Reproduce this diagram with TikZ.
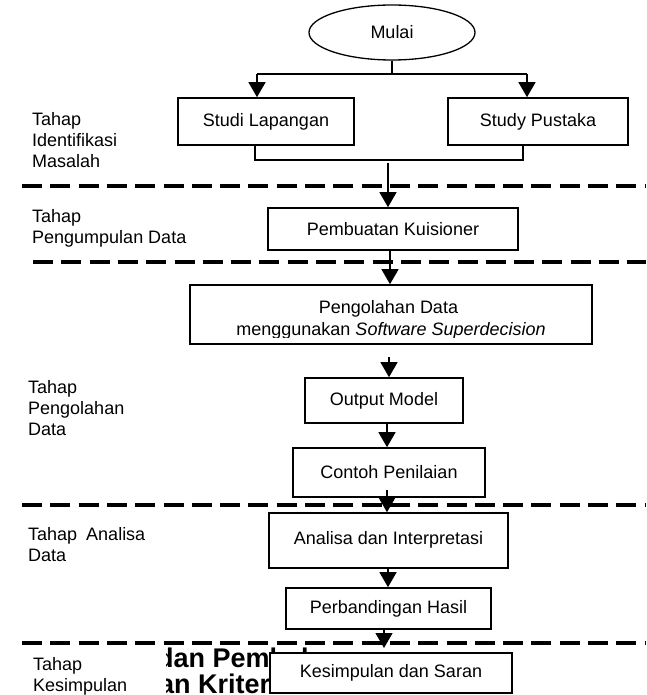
\documentclass[tikz,border=0pt]{standalone}
\usepackage{fontspec}
\setmainfont{Liberation Sans}
\usetikzlibrary{arrows.meta,shapes.geometric}
\begin{document}
\begin{tikzpicture}[x=1pt,y=-1pt,
  box/.style={draw,line width=1.6pt,fill=white,inner sep=0pt,font=\fontsize{18}{21}\selectfont,align=center},
  lbl/.style={anchor=north west,inner sep=0pt,align=left,font=\fontsize{18}{21}\selectfont},
  txt/.style={anchor=base,inner sep=0pt,font=\fontsize{18}{21}\selectfont},
  conn/.style={line width=1.3pt},
  arr/.style={line width=1.3pt,-{Triangle[length=15pt,width=17pt]}},
  sep/.style={line width=4pt,dash pattern=on 20pt off 8.3pt},
  head/.style={anchor=base west,inner sep=0pt,font=\fontsize{27}{30}\selectfont\bfseries}]
\useasboundingbox (0,0) rectangle (646,695);

% background heading fragments
\node[head] (h1) at (157,667) {dan Pembahasan};
\node[head] (h2) at (159,693) {an Kriteria};
\fill[white] (12,650) rectangle (166,700);

% stage labels
\node[lbl] (l1) at (32,112) {Tahap\\Identifikasi\\Masalah};
\node[lbl] (l2) at (32,209) {Tahap\\Pengumpulan Data};
\node[lbl] (l3) at (28,380) {Tahap\\Pengolahan\\Data};
\node[lbl] (l4) at (28,527) {Tahap\hspace{4pt} Analisa\\Data};
\node[lbl] (l5) at (33,657) {Tahap\\Kesimpulan};

% dashed separators
\coordinate (d1a) at (22,186);  \coordinate (d1b) at (646,186);
\coordinate (d2a) at (33,262);  \coordinate (d2b) at (646,262);
\coordinate (d3a) at (22,505);  \coordinate (d3b) at (646,505);
\coordinate (d4a) at (22,643);  \coordinate (d4b) at (646,643);
\draw[sep] (d1a) -- (d1b);
\draw[sep] (d2a) -- (d2b);
\draw[sep] (d3a) -- (d3b);
\draw[sep] (d4a) -- (d4b);

% nodes
\node[draw,ellipse,line width=1.3pt,minimum width=166pt,minimum height=55pt,inner sep=0pt,font=\fontsize{18}{21}\selectfont] (mulai) at (392,32.5) {Mulai};
\node[box,minimum width=176pt,minimum height=47pt] (studi) at (266,121.5) {Studi Lapangan};
\node[box,minimum width=180pt,minimum height=47pt] (pustaka) at (538,121.5) {Study Pustaka};
\node[box,minimum width=250pt,minimum height=42pt] (kuis) at (393,229) {Pembuatan Kuisioner};
\node[box,minimum width=402pt,minimum height=59pt] (olah) at (391,314.5) {};
\begin{scope}
  \clip (190,285) rectangle (592,337.5);
  \node[txt] (olah1) at (388.5,313) {Pengolahan Data};
  \node[txt] (olah2) at (391,335) {menggunakan \textit{Software Superdecision}};
\end{scope}
\node[box,minimum width=158pt,minimum height=45pt] (output) at (384,400.5) {Output Model};
\node[box,minimum width=192pt,minimum height=49pt] (contoh) at (389,472.5) {Contoh Penilaian};
\node[box,minimum width=239pt,minimum height=55pt] (analisa) at (388.5,540.5) {\raisebox{5pt}{Analisa dan Interpretasi}};
\node[box,minimum width=205pt,minimum height=41pt] (banding) at (388.5,608.5) {Perbandingan Hasil};
\node[box,minimum width=242pt,minimum height=40pt] (simpul) at (391,673) {Kesimpulan dan Saran};

% connectors
\coordinate (split) at (392,74);
\coordinate (sl) at (257,74);
\coordinate (sr) at (527,74);
\draw[conn] (mulai.south) -- (split);
\draw[conn] (sl) -- (sr);
\draw[arr] (sl) -- (sl |- studi.north);
\draw[arr] (sr) -- (sr |- pustaka.north);

\coordinate (ml) at (255,160);
\coordinate (mr) at (523,160);
\draw[conn] (ml |- studi.south) -- (ml) -- (mr) -- (mr |- pustaka.south);

\coordinate (m0) at (388,163);
\draw[arr] (m0) -- (m0 |- kuis.north);

\coordinate (c2) at (390,0);
\draw[arr] (kuis.south -| c2) -- (c2 |- olah.north);

\coordinate (a3) at (389,357);
\draw[arr] (a3) -- (a3 |- output.north);

\coordinate (c4) at (387,0);
\draw[arr] (output.south -| c4) -- (c4 |- contoh.north);

\coordinate (a5) at (387,490);
\draw[arr] (a5) -- (a5 |- analisa.north);

\coordinate (c6) at (388,0);
\draw[arr] (analisa.south -| c6) -- (c6 |- banding.north);

\coordinate (a7) at (384,648);
\draw[arr] (banding.south -| a7) -- (a7);
\end{tikzpicture}
\end{document}
